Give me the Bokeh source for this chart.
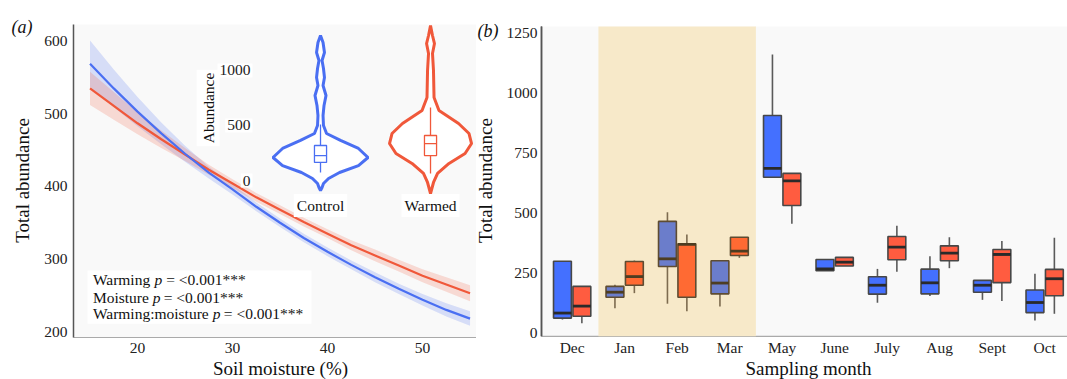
import math
from bokeh.plotting import figure
from bokeh.models import Range1d, Label, BoxAnnotation, ColumnDataSource
from bokeh.layouts import row
from bokeh.embed import file_html
from bokeh.resources import INLINE

SERIF = "Liberation Serif"

# ---------------- Panel (a) data ----------------
moisture = [15, 17.5, 20, 22.5, 25, 27.5, 30, 32.5, 35, 37.5, 40, 42.5, 45, 47.5, 50, 52.5, 55]
ctrl_fit = [569, 535, 503, 473, 445, 419, 396, 372, 350, 329, 310, 292, 275, 259, 244, 230, 218]
ctrl_low = [537, 509, 483, 458, 434, 411, 389, 366, 344, 323, 304, 286, 268, 252, 236, 221, 208]
ctrl_up = [601, 561, 523, 488, 456, 427, 403, 378, 356, 335, 316, 298, 282, 266, 252, 239, 228]
warm_fit = [535, 511, 487, 465, 444, 423, 404, 385, 368, 351, 335, 319, 305, 291, 277, 265, 253]
warm_low = [512, 492, 472, 453, 435, 416, 398, 379, 362, 345, 329, 312, 297, 283, 268, 255, 242]
warm_up = [558, 530, 502, 477, 453, 430, 410, 391, 374, 357, 341, 326, 313, 299, 286, 275, 264]

x_ticks_a = [20, 30, 40, 50]
y_ticks_a = [200, 300, 400, 500, 600]

# inset violins (abundance levels and half widths in category units)
treatments = ["Control", "Warmed"]
ctrl_levels = [1318, 1255, 1164, 1091, 1018, 936, 864, 773, 682, 591, 500, 427, 364, 291, 209, 136, 73, 18, -27, -64, -91]
ctrl_halfw = [0, .023, .036, .014, .027, .036, .023, .05, .032, .023, .027, .055, .182, .345, .432, .345, .173, .073, .027, .014, 0]
warm_levels = [1409, 1318, 1245, 1155, 1000, 755, 636, 518, 427, 336, 245, 155, 64, -18, -118]
warm_halfw = [0, .018, .036, .018, .027, .032, .077, .255, .35, .373, .314, .168, .064, .027, 0]
# inset box stats: low whisker, q1, median, q3, high whisker
ctrl_inset_box = [73, 164, 227, 318, 509]
warm_inset_box = [64, 227, 336, 409, 664]
inset_ticks = [0, 500, 1000]

# ---------------- Panel (b) data ----------------
months = ["Dec", "Jan", "Feb", "Mar", "May", "June", "July", "Aug", "Sept", "Oct"]
shaded_months = ["Jan", "Feb", "Mar"]
ctrl_lo = [58, 105, 124, 112, 651, 261, 128, 156, 140, 54]
ctrl_q1 = [64, 151, 279, 165, 651, 261, 164, 165, 172, 87]
ctrl_med = [85, 172, 311, 210, 688, 269, 201, 211, 201, 129]
ctrl_q3 = [301, 196, 467, 303, 908, 308, 236, 268, 221, 181]
ctrl_hi = [301, 203, 505, 303, 1162, 308, 269, 322, 221, 249]
warm_lo = [43, 168, 93, 315, 457, 281, 257, 272, 135, 82]
warm_q1 = [72, 201, 151, 325, 533, 281, 307, 303, 212, 157]
warm_med = [114, 237, 371, 343, 636, 297, 360, 335, 329, 228]
warm_q3 = [196, 300, 374, 401, 667, 317, 404, 365, 350, 267]
warm_hi = [196, 304, 412, 401, 667, 317, 449, 401, 385, 399]
y_ticks_b = [0, 250, 500, 750, 1000, 1250]

BLUE = "#4a6ff2"
RED = "#f0583a"
PANEL_BG = "#f9f9f9"
TICK_SIZE = "15.5px"
AXIS_LABEL_SIZE = "19px"


def label(p, x, y, text, size="15.5px", style="normal", align="center", angle=0.0,
          color="#111111", **kw):
    p.add_layout(Label(x=x, y=y, text=text, text_align=align, text_baseline="middle",
                       text_font=SERIF, text_font_size=size, text_font_style=style,
                       text_color=color, angle=angle, **kw))


def bare_figure(width, xr, yr):
    p = figure(width=width, height=379, x_range=Range1d(*xr), y_range=Range1d(*yr),
               output_backend="svg", toolbar_location=None,
               x_axis_location=None, y_axis_location=None,
               min_border_left=0, min_border_right=0, min_border_top=0, min_border_bottom=0,
               background_fill_color="white", border_fill_color="white",
               outline_line_color=None)
    p.grid.visible = False
    return p


def draw_axes(p, x0, x1, y0, y1, xticks, xlabels, xlab_y, yticks, ylab_x):
    p.quad(left=[x0], right=[x1], bottom=[y0], top=[y1], fill_color=PANEL_BG, line_color=None)
    p.segment(x0=[x0], y0=[y0], x1=[x1], y1=[y0], line_color="#aaaaaa", line_width=1.2)
    p.segment(x0=[x0], y0=[y0], x1=[x0], y1=[y1], line_color="#555555", line_width=1.5)
    for t, s in zip(xticks, xlabels):
        label(p, t, xlab_y, s, size=TICK_SIZE, color="#222222",
              background_fill_color="white", padding=0)
    for t in yticks:
        label(p, ylab_x, t, str(t), size=TICK_SIZE, align="right", color="#222222",
              background_fill_color="white", padding=0)


# ================= Panel (a) =================
# plotting area: x 13.26..55.68, y 192..623 ; canvas covers the full figure
pa = bare_figure(476, (5.576, 55.68), (134.15, 656.05))
pa.extra_x_ranges = {"ix": Range1d(-1.909, 2.418)}
pa.extra_y_ranges = {"iy": Range1d(-1808.8, 1636.2)}

draw_axes(pa, 13.26, 55.68, 192, 623, x_ticks_a, [str(v) for v in x_ticks_a], 178.2,
          y_ticks_a, 12.63)

src_a = ColumnDataSource(dict(x=moisture, cf=ctrl_fit, cl=ctrl_low, cu=ctrl_up,
                              wf=warm_fit, wl=warm_low, wu=warm_up))
pa.varea(x="x", y1="cl", y2="cu", source=src_a, fill_color=BLUE, fill_alpha=0.2)
pa.varea(x="x", y1="wl", y2="wu", source=src_a, fill_color=RED, fill_alpha=0.2)
pa.line(x="x", y="wf", source=src_a, line_color=RED, line_width=2.2)
pa.line(x="x", y="cf", source=src_a, line_color=BLUE, line_width=2.2)

violin_xs, violin_ys = [], []
for i, (lv, hw) in enumerate([(ctrl_levels, ctrl_halfw), (warm_levels, warm_halfw)]):
    c = i + 1
    violin_xs.append([c + h for h in hw] + [c - h for h in reversed(hw)])
    violin_ys.append(list(lv) + list(reversed(lv)))
pa.patches(xs=violin_xs, ys=violin_ys, x_range_name="ix", y_range_name="iy",
           fill_color="white", fill_alpha=0.9, line_color=[BLUE, RED], line_width=3)

bw = 0.055
for i, st in enumerate([ctrl_inset_box, warm_inset_box]):
    c = i + 1
    col = [BLUE, RED][i]
    pa.segment(x0=[c, c], y0=[st[0], st[3]], x1=[c, c], y1=[st[1], st[4]],
               x_range_name="ix", y_range_name="iy", line_color=col, line_width=1.3)
    pa.quad(left=[c - bw], right=[c + bw], bottom=[st[1]], top=[st[3]],
            x_range_name="ix", y_range_name="iy", fill_color=None, line_color=col, line_width=1.3)
    pa.segment(x0=[c - bw], y0=[st[2]], x1=[c + bw], y1=[st[2]],
               x_range_name="ix", y_range_name="iy", line_color=col, line_width=1.3)

for t in inset_ticks:
    label(pa, 0.382, t, str(t), align="right", x_range_name="ix", y_range_name="iy",
          background_fill_color="white", padding=2, color="#222222")
label(pa, -0.022, 659, "Abundance", angle=math.pi / 2, x_range_name="ix", y_range_name="iy",
      background_fill_color="white", padding=3)
for i, name in enumerate(treatments):
    label(pa, i + 1, -227, name, x_range_name="ix", y_range_name="iy",
          background_fill_color="white", padding=3)

# statistics text box
pa.add_layout(BoxAnnotation(left=14.73, right=38.31, bottom=211, top=284.4,
                            fill_color="white", fill_alpha=1.0, line_color=None))
stat_rows = [("Warming", 271.9, 21.79, 23.02),
             ("Moisture", 247.1, 21.6, 22.75),
             ("Warming:moisture", 225.0, 27.92, 29.08)]
for name, yy, xp, xe in stat_rows:
    label(pa, 15.3, yy, name, align="left")
    label(pa, xp, yy, "p", style="italic", align="left")
    label(pa, xe, yy, "= <0.001***", align="left")

label(pa, 6.734, 618.9, "(a)", size="18px", style="italic", align="left")
label(pa, 7.892, 408.2, "Total abundance", size=AXIS_LABEL_SIZE, angle=math.pi / 2,
      background_fill_color="white", padding=0)
label(pa, 35.05, 149.3, "Soil moisture (%)", size=AXIS_LABEL_SIZE,
      background_fill_color="white", padding=0)

# ================= Panel (b) =================
# plotting area: x 0.416..10.435, y -12..1279
pb = bare_figure(591, (-0.822, 10.435), (-191.8, 1387.3))
pos = list(range(1, len(months) + 1))
draw_axes(pb, 0.416, 10.435, -12, 1279, [], [], 0, y_ticks_b, 0.340)

i0 = months.index(shaded_months[0]) + 1
i1 = months.index(shaded_months[-1]) + 1
pb.quad(left=[i0 - 0.5], right=[i1 + 0.5], bottom=[-12], top=[1279],
        fill_color="#f7e9c9", line_color=None)
pb.segment(x0=[0.416], y0=[-12], x1=[0.416], y1=[1279], line_color="#555555", line_width=1.5)
for p_, m in zip(pos, months):
    label(pb, p_, -58.5, m, size=TICK_SIZE, color="#222222",
          background_fill_color="white", padding=0)

off = 0.185
wid = 0.34
for k, (lo, q1, md, q3, hi) in enumerate([(ctrl_lo, ctrl_q1, ctrl_med, ctrl_q3, ctrl_hi),
                                         (warm_lo, warm_q1, warm_med, warm_q3, warm_hi)]):
    shaded = [m in shaded_months for m in months]
    xs = [p_ + (off if k else -off) for p_ in pos]
    if k == 0:
        fills = ["#6b7dcb" if s else "#4470ff" for s in shaded]
    else:
        fills = ["#ff6a33" if s else "#ff5c40" for s in shaded]
    edge = ["#5e4c32" if s else "#474747" for s in shaded]
    wcol = ["#7d6b4f" if s else "#5a5a5a" for s in shaded]
    mcol = ["#4d3d22" if s else "#2a2a2a" for s in shaded]
    src = ColumnDataSource(dict(x=xs, lo=lo, q1=q1, md=md, q3=q3, hi=hi,
                                xl=[x - wid / 2 for x in xs], xr=[x + wid / 2 for x in xs],
                                fill=fills, edge=edge, wcol=wcol, mcol=mcol))
    pb.segment(x0="x", y0="lo", x1="x", y1="q1", source=src, line_color="wcol", line_width=1.6)
    pb.segment(x0="x", y0="q3", x1="x", y1="hi", source=src, line_color="wcol", line_width=1.6)
    pb.vbar(x="x", width=wid, bottom="q1", top="q3", source=src, fill_color="fill",
            line_color="edge", line_width=1.6)
    pb.segment(x0="xl", y0="md", x1="xr", y1="md", source=src, line_color="mcol", line_width=2.8)

label(pb, -0.803, 1262.3, "(b)", size="18px", style="italic", align="left")
label(pb, -0.651, 637.3, "Total abundance", size=AXIS_LABEL_SIZE, angle=math.pi / 2,
      background_fill_color="white", padding=0)
label(pb, 5.502, -146.0, "Sampling month", size=AXIS_LABEL_SIZE,
      background_fill_color="white", padding=0)

layout = row(pa, pb)
open("out.html", "w").write(file_html(layout, INLINE))
